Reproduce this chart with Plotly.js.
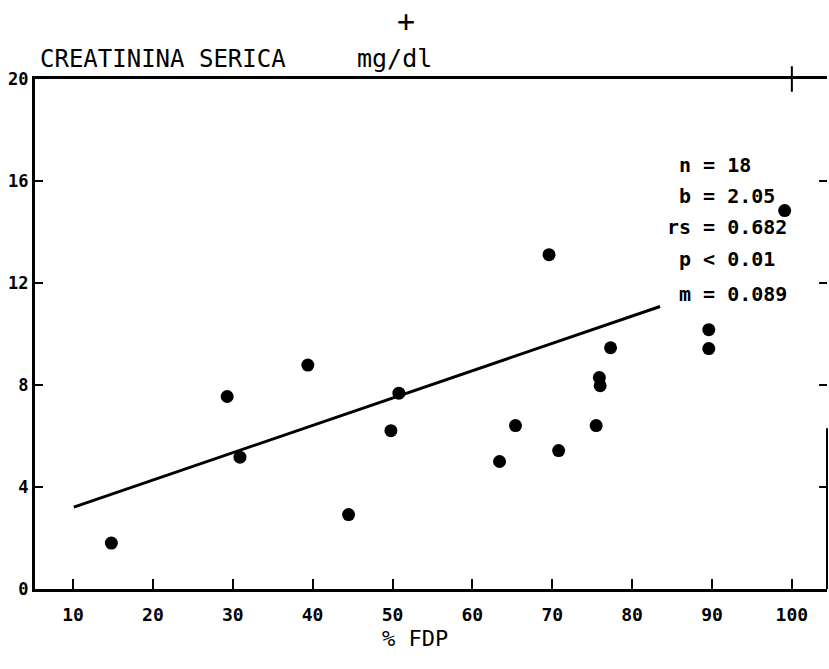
<!DOCTYPE html>
<html>
<head>
<meta charset="utf-8">
<script src="https://cdn.plot.ly/plotly-3.0.1.min.js"></script>
<style>html,body{margin:0;padding:0;background:#fff;}#chart{width:829px;height:669px;}</style>
</head>
<body>
<div id="chart"></div>
<script>
// Data
const fdpPercent = [14.8, 29.3, 30.9, 39.4, 44.5, 49.8, 50.8, 63.4, 65.4, 69.6, 70.8, 75.5, 75.9, 76.0, 77.3, 89.6, 89.6, 99.1];
const creatinine = [1.8, 7.55, 5.17, 8.78, 2.92, 6.21, 7.68, 5.0, 6.41, 13.11, 5.43, 6.41, 8.29, 7.97, 9.46, 10.17, 9.43, 14.84];
const fitX = [10.1, 83.5];
const fitY = [3.21, 11.08];
const xTicks = [10, 20, 30, 40, 50, 60, 70, 80, 90, 100];
const yTicks = [0, 4, 8, 12, 16, 20];
const statLines = ["\u00A0n = 18", "\u00A0b = 2.05", "rs = 0.682", "\u00A0p < 0.01", "\u00A0m = 0.089"];
const statY = [0.831, 0.770, 0.709, 0.648, 0.578];

const FONT = "DejaVu Sans Mono, monospace";

const traces = [
  {
    x: fitX, y: fitY, mode: "lines", type: "scatter",
    line: {color: "#000", width: 3}, hoverinfo: "skip", showlegend: false
  },
  {
    x: fdpPercent, y: creatinine, mode: "markers", type: "scatter",
    marker: {color: "#000", size: 13, line: {width: 0}}, showlegend: false
  }
];

const annotations = [
  {text: "CREATININA SERICA", xref: "paper", yref: "paper", x: 0.004, y: 1, xanchor: "left", yanchor: "bottom", yshift: 4, showarrow: false, font: {family: FONT, size: 24, color: "#000"}},
  {text: "mg/dl", xref: "paper", yref: "paper", x: 0.404, y: 1, xanchor: "left", yanchor: "bottom", yshift: 4, showarrow: false, font: {family: FONT, size: 25, color: "#000"}},
  {text: "+", xref: "paper", yref: "paper", x: 0.468, y: 1, xanchor: "center", yanchor: "middle", yshift: 58, showarrow: false, font: {family: FONT, size: 30, color: "#000"}},
  {text: "% FDP", xref: "paper", yref: "paper", x: 0.48, y: 0, xanchor: "center", yanchor: "middle", yshift: -49, showarrow: false, font: {family: FONT, size: 22, color: "#000"}}
];
statLines.forEach((t, i) => {
  annotations.push({text: "<b>" + t + "</b>", xref: "paper", yref: "paper", x: 0.796, y: statY[i], xanchor: "left", yanchor: "middle", showarrow: false, font: {family: FONT, size: 20, color: "#000"}});
});

const shapes = [
  {type: "line", xref: "x", yref: "paper", x0: 100, x1: 100, y0: 0.975, y1: 1.025, line: {color: "#000", width: 2}},
  {type: "line", xref: "paper", yref: "y", x0: 1, x1: 1, y0: 0, y1: 6.3, line: {color: "#000", width: 2}}
];
[16, 12, 8, 4].forEach(v => {
  shapes.push({type: "line", xref: "paper", yref: "y", x0: 0.99, x1: 1, y0: v, y1: v, line: {color: "#000", width: 2}});
});

const layout = {
  width: 829, height: 669,
  margin: {l: 35, r: 2, t: 79, b: 80},
  paper_bgcolor: "#fff", plot_bgcolor: "#fff",
  showlegend: false,
  font: {family: FONT, color: "#000"},
  xaxis: {
    range: [5.24, 104.4], tickvals: xTicks, ticktext: xTicks.map(v => "<b>" + v + "</b>"),
    ticks: "inside", ticklen: 10, tickwidth: 2, tickcolor: "#000",
    showline: true, linewidth: 3, linecolor: "#000", mirror: true,
    showgrid: false, zeroline: false, ticklabelstandoff: 7,
    tickfont: {family: FONT, size: 18, color: "#000"}
  },
  yaxis: {
    range: [0, 20], tickvals: yTicks, ticktext: yTicks.map(v => "<b>" + v + "</b>"),
    ticks: "inside", ticklen: 8, tickwidth: 2, tickcolor: "#000",
    showline: true, linewidth: 3, linecolor: "#000",
    showgrid: false, zeroline: false,
    tickfont: {family: FONT, size: 17, color: "#000"}
  },
  annotations: annotations,
  shapes: shapes
};

Plotly.newPlot("chart", traces, layout, {displayModeBar: false, staticPlot: true});
</script>
</body>
</html>
